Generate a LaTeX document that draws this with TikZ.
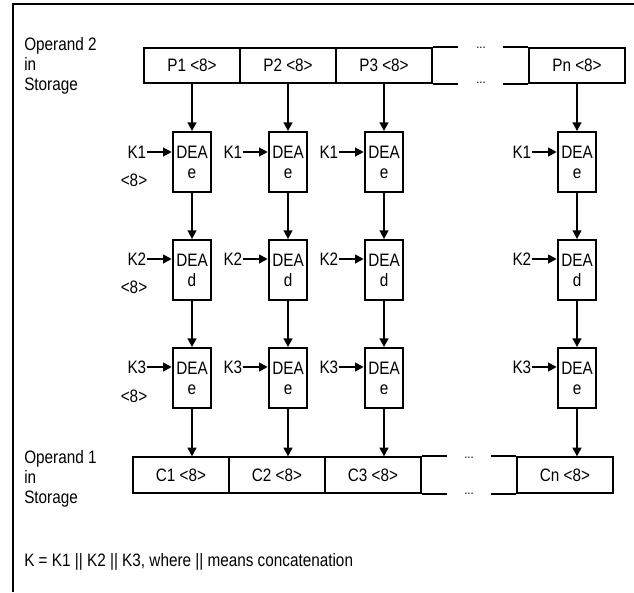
\documentclass[tikz,border=0pt]{standalone}
\usepackage{fontspec}
\setmainfont[FakeStretch=0.85]{Liberation Sans}
\usetikzlibrary{arrows.meta,positioning}

\begin{document}
\begin{tikzpicture}[x=0.75pt, y=-0.75pt,
  every node/.style={font=\fontsize{13.5}{15}\selectfont},
  cell/.style={draw, line width=1.4pt, minimum width=72pt, minimum height=26.5pt, inner sep=0pt},
  dea/.style={draw, line width=1.4pt, minimum width=29pt, minimum height=45pt, align=center, inner sep=0pt},
  key/.style={inner sep=0pt, anchor=east},
  txt/.style={inner sep=0pt, anchor=west, align=left},
  arr/.style={-{Triangle[length=6.5pt, width=6.5pt]}, line width=1.4pt},
  dots/.style={font=\fontsize{10}{12}\selectfont, inner sep=0pt, anchor=base},
]
\useasboundingbox (0,0) rectangle (634,592);

% Frame
\draw[line width=1.4pt] (13,592) -- (13,4) -- (634,4);

% Operand 2 (top row)
\node[txt] (op2) at (24,66) {Operand 2\\in\\Storage};
\node[cell] (p1) at (192,65.5) {P1 <8>};
\node[cell] (p2) at (288,65.5) {P2 <8>};
\node[cell] (p3) at (384,65.5) {P3 <8>};
\node[cell] (pn) at (577,65.5) {Pn <8>};
\draw[line width=1.4pt] (p3.north east) -- ++(25,0);
\draw[line width=1.4pt] (p3.south east) -- ++(25,0);
\draw[line width=1.4pt] (pn.north west) -- ++(-25,0);
\draw[line width=1.4pt] (pn.south west) -- ++(-25,0);
\node[dots] (dp1) at (481,49) {...};
\node[dots] (dp2) at (481,84) {...};

% First DEA row (encrypt, K1)
\node[dea] (ea1) at (192,162) {DEA\\e};
\node[dea] (ea2) at (288,162) {DEA\\e};
\node[dea] (ea3) at (384,162) {DEA\\e};
\node[dea] (ean) at (577,162) {DEA\\e};
\node[key] (ka1) at (146.5,152) {K1};
\node[key] (ka2) at (242.5,152) {K1};
\node[key] (ka3) at (338.5,152) {K1};
\node[key] (kan) at (531.5,152) {K1};
\node (ba) at (134,180) {<8>};

% Second DEA row (decrypt, K2)
\node[dea] (d1) at (192,270) {DEA\\d};
\node[dea] (d2) at (288,270) {DEA\\d};
\node[dea] (d3) at (384,270) {DEA\\d};
\node[dea] (dn) at (577,270) {DEA\\d};
\node[key] (kb1) at (146.5,259) {K2};
\node[key] (kb2) at (242.5,259) {K2};
\node[key] (kb3) at (338.5,259) {K2};
\node[key] (kbn) at (531.5,259) {K2};
\node (bb) at (134,287) {<8>};

% Third DEA row (encrypt, K3)
\node[dea] (eb1) at (192,378) {DEA\\e};
\node[dea] (eb2) at (288,378) {DEA\\e};
\node[dea] (eb3) at (384,378) {DEA\\e};
\node[dea] (ebn) at (577,378) {DEA\\e};
\node[key] (kc1) at (146.5,367) {K3};
\node[key] (kc2) at (242.5,367) {K3};
\node[key] (kc3) at (338.5,367) {K3};
\node[key] (kcn) at (531.5,367) {K3};
\node (bc) at (134,396) {<8>};

% Operand 1 (bottom row)
\node[txt] (op1) at (24,479) {Operand 1\\in\\Storage};
\node[cell] (c1) at (181,475) {C1 <8>};
\node[cell] (c2) at (277,475) {C2 <8>};
\node[cell] (c3) at (373,475) {C3 <8>};
\node[cell] (cn) at (565,475) {Cn <8>};
\draw[line width=1.4pt] (c3.north east) -- ++(25,0);
\draw[line width=1.4pt] (c3.south east) -- ++(25,0);
\draw[line width=1.4pt] (cn.north west) -- ++(-25,0);
\draw[line width=1.4pt] (cn.south west) -- ++(-25,0);
\node[dots] (dc1) at (469,458) {...};
\node[dots] (dc2) at (469,494) {...};

% Arrows: keys -> DEA
\draw[arr] (ka1.east) -- (ka1.east -| ea1.west);
\draw[arr] (ka2.east) -- (ka2.east -| ea2.west);
\draw[arr] (ka3.east) -- (ka3.east -| ea3.west);
\draw[arr] (kan.east) -- (kan.east -| ean.west);
\draw[arr] (kb1.east) -- (kb1.east -| d1.west);
\draw[arr] (kb2.east) -- (kb2.east -| d2.west);
\draw[arr] (kb3.east) -- (kb3.east -| d3.west);
\draw[arr] (kbn.east) -- (kbn.east -| dn.west);
\draw[arr] (kc1.east) -- (kc1.east -| eb1.west);
\draw[arr] (kc2.east) -- (kc2.east -| eb2.west);
\draw[arr] (kc3.east) -- (kc3.east -| eb3.west);
\draw[arr] (kcn.east) -- (kcn.east -| ebn.west);

% Arrows: P -> e -> d -> e -> C
\draw[arr] (p1.south) -- (ea1.north);
\draw[arr] (p2.south) -- (ea2.north);
\draw[arr] (p3.south) -- (ea3.north);
\draw[arr] (pn.south) -- (ean.north);
\draw[arr] (ea1.south) -- (d1.north);
\draw[arr] (ea2.south) -- (d2.north);
\draw[arr] (ea3.south) -- (d3.north);
\draw[arr] (ean.south) -- (dn.north);
\draw[arr] (d1.south) -- (eb1.north);
\draw[arr] (d2.south) -- (eb2.north);
\draw[arr] (d3.south) -- (eb3.north);
\draw[arr] (dn.south) -- (ebn.north);
\draw[arr] (eb1.south) -- (eb1.south |- c1.north);
\draw[arr] (eb2.south) -- (eb2.south |- c2.north);
\draw[arr] (eb3.south) -- (eb3.south |- c3.north);
\draw[arr] (ebn.south) -- (ebn.south |- cn.north);

% Note
\node[txt] (note) at (24,562) {K = K1 || K2 || K3, where || means concatenation};

\end{tikzpicture}
\end{document}
